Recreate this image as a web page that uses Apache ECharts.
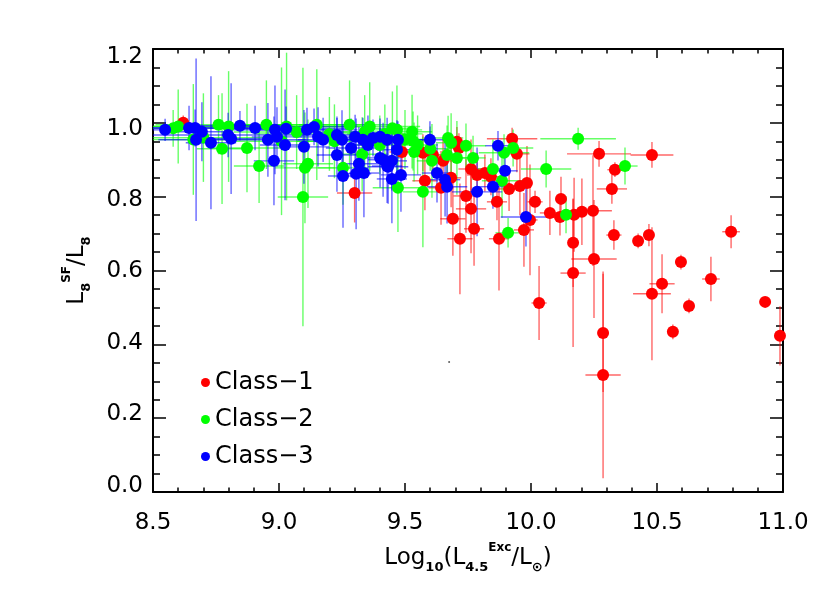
<!DOCTYPE html>
<html>
<head>
<meta charset="utf-8">
<script src="https://cdn.jsdelivr.net/npm/echarts/dist/echarts.min.js"></script>
<style>
html,body{margin:0;padding:0;background:#fff;}
#chart{width:830px;height:593px;}
</style>
</head>
<body>
<div id="chart"></div>
<script>
// ---------- data ----------
const seriesNames = ['Class\u22121', 'Class\u22122', 'Class\u22123'];
const xTickValues = [8.5, 9.0, 9.5, 10.0, 10.5, 11.0];
const yTickValues = [0.0, 0.2, 0.4, 0.6, 0.8, 1.0, 1.2];

const class1X = [8.62, 9.30, 9.925, 9.944, 10.27, 10.333, 10.321, 10.119, 10.016, 10.075,
  10.115, 10.171, 10.202, 10.246, 9.996, 9.972, 10.167, 10.25, 10.167, 10.329,
  9.865, 9.913, 9.956, 9.984, 9.873, 9.774, 9.718, 9.69, 9.762, 9.742,
  9.762, 9.786, 9.817, 9.841, 9.579, 9.643, 9.683, 9.651, 9.611, 9.571,
  9.706, 9.714, 9.488, 10.48, 10.425, 10.468, 10.032, 10.286, 10.286, 10.48,
  10.52, 10.595, 10.714, 10.627, 10.563, 10.794, 10.929, 10.988];
const class1Y = [1.00, 0.81, 0.957, 0.916, 0.916, 0.873, 0.821, 0.794, 0.786, 0.756,
  0.745, 0.751, 0.759, 0.762, 0.737, 0.71, 0.675, 0.631, 0.593, 0.696,
  0.786, 0.821, 0.829, 0.837, 0.686, 0.713, 0.686, 0.74, 0.767, 0.802,
  0.875, 0.859, 0.864, 0.854, 0.843, 0.824, 0.851, 0.897, 0.913, 0.919,
  0.949, 0.932, 0.921, 0.913, 0.68, 0.696, 0.512, 0.431, 0.317, 0.537,
  0.564, 0.623, 0.577, 0.504, 0.434, 0.705, 0.515, 0.423];
const class1XErr = [0.03, 0.07, 0.10, 0.05, 0.127, 0.03, 0.06, 0.02, 0.03, 0.04,
  0.03, 0.02, 0.02, 0.075, 0.03, 0.04, 0.02, 0.09, 0.05, 0.03,
  0.04, 0.05, 0.03, 0.02, 0.04, 0.04, 0.05, 0.05, 0.06, 0.05,
  0.05, 0.04, 0.04, 0.04, 0.05, 0.05, 0.04, 0.05, 0.05, 0.05,
  0.04, 0.04, 0.05, 0.085, 0.02, 0.02, 0.03, 0.02, 0.07, 0.075,
  0.05, 0.02, 0.035, 0.01, 0.02, 0.035, 0.01, 0.01];
const class1YErr = [0.02, 0.08, 0.03, 0.05, 0.035, 0.02, 0.04, 0.06, 0.03, 0.06,
  0.05, 0.10, 0.09, 0.15, 0.15, 0.10, 0.12, 0.16, 0.20, 0.04,
  0.05, 0.06, 0.08, 0.10, 0.14, 0.10, 0.15, 0.10, 0.12, 0.10,
  0.08, 0.06, 0.05, 0.05, 0.08, 0.10, 0.08, 0.06, 0.05, 0.05,
  0.04, 0.04, 0.05, 0.035, 0.02, 0.03, 0.10, 0.16, 0.28, 0.18,
  0.08, 0.02, 0.06, 0.02, 0.02, 0.045, 0.01, 0.08];

const class2X = [8.774, 8.873, 8.921, 9.095, 9.103, 9.115, 9.254, 9.528, 9.468, 9.532,
  9.536, 9.607, 9.571, 9.472, 9.671, 9.683, 9.706, 9.667, 9.742, 9.77,
  9.849, 9.885, 9.893, 9.929, 9.909, 10.06, 10.187, 10.139, 10.373,
  8.58, 8.60, 8.76, 8.80, 8.95, 9.03, 9.07, 9.15, 9.20, 9.28,
  9.34, 9.36, 9.42, 9.45, 9.50, 8.70, 8.66, 9.01, 9.22, 9.40,
  9.33, 9.55, 9.60];
const class2Y = [0.93, 0.932, 0.883, 0.799, 0.878, 0.889, 0.878, 0.976, 0.981, 0.951,
  0.921, 0.897, 0.813, 0.824, 0.959, 0.946, 0.905, 0.913, 0.938, 0.905,
  0.875, 0.843, 0.919, 0.932, 0.702, 0.875, 0.957, 0.751, 0.883,
  0.985, 0.99, 0.995, 0.99, 0.995, 0.99, 0.975, 0.995, 0.97, 0.995,
  0.975, 0.99, 0.97, 0.985, 0.955, 0.96, 0.955, 0.95, 0.95, 0.94,
  0.915, 0.94, 0.93];
const class2XErr = [0.10, 0.15, 0.10, 0.10, 0.12, 0.10, 0.10, 0.08, 0.10, 0.08,
  0.08, 0.06, 0.08, 0.10, 0.06, 0.06, 0.05, 0.06, 0.08, 0.05,
  0.06, 0.08, 0.10, 0.08, 0.05, 0.10, 0.15, 0.02, 0.05,
  0.20, 0.30, 0.25, 0.35, 0.20, 0.30, 0.25, 0.20, 0.30, 0.20,
  0.15, 0.20, 0.15, 0.10, 0.10, 0.30, 0.25, 0.20, 0.15, 0.10,
  0.10, 0.08, 0.08];
const class2YErr = [0.15, 0.12, 0.10, 0.35, 0.15, 0.12, 0.10, 0.10, 0.12, 0.08,
  0.08, 0.10, 0.15, 0.12, 0.06, 0.08, 0.10, 0.08, 0.06, 0.06,
  0.08, 0.10, 0.05, 0.05, 0.04, 0.05, 0.03, 0.05, 0.05,
  0.05, 0.10, 0.08, 0.15, 0.12, 0.20, 0.10, 0.15, 0.10, 0.12,
  0.10, 0.12, 0.08, 0.10, 0.08, 0.12, 0.15, 0.20, 0.10, 0.08,
  0.10, 0.08, 0.06];

const class3X = [8.548, 8.643, 8.667, 8.694, 8.671, 8.73, 8.798, 8.81, 8.845, 8.905,
  8.956, 8.984, 8.992, 9.028, 9.024, 8.98, 9.099, 9.111, 9.139, 9.155,
  9.175, 9.23, 9.23, 9.25, 9.254, 9.286, 9.302, 9.306, 9.317, 9.337,
  9.333, 9.353, 9.373, 9.401, 9.429, 9.401, 9.429, 9.472, 9.468, 9.413,
  9.448, 9.433, 9.448, 9.484, 9.599, 9.627, 9.659, 9.667, 9.786, 9.849,
  9.869, 9.897, 9.98];
const class3Y = [0.981, 0.986, 0.986, 0.976, 0.954, 0.946, 0.967, 0.957, 0.992, 0.986,
  0.954, 0.981, 0.962, 0.984, 0.94, 0.897, 0.935, 0.981, 0.989, 0.962,
  0.954, 0.913, 0.967, 0.954, 0.856, 0.932, 0.962, 0.862, 0.889, 0.864,
  0.954, 0.94, 0.959, 0.905, 0.883, 0.962, 0.954, 0.954, 0.927, 0.90,
  0.897, 0.881, 0.848, 0.859, 0.954, 0.864, 0.846, 0.827, 0.813, 0.827,
  0.938, 0.87, 0.745];
const class3XErr = [0.05, 0.30, 0.20, 0.10, 0.15, 0.10, 0.30, 0.15, 0.20, 0.15,
  0.15, 0.20, 0.10, 0.25, 0.10, 0.08, 0.10, 0.20, 0.15, 0.10,
  0.10, 0.08, 0.15, 0.10, 0.06, 0.10, 0.15, 0.06, 0.08, 0.06,
  0.10, 0.08, 0.12, 0.08, 0.06, 0.10, 0.08, 0.10, 0.08, 0.06,
  0.06, 0.08, 0.06, 0.08, 0.10, 0.06, 0.06, 0.08, 0.10, 0.06,
  0.05, 0.05, 0.10];
const class3YErr = [0.03, 0.06, 0.05, 0.08, 0.22, 0.18, 0.06, 0.15, 0.04, 0.06,
  0.10, 0.12, 0.08, 0.06, 0.15, 0.12, 0.10, 0.06, 0.05, 0.08,
  0.06, 0.10, 0.05, 0.08, 0.14, 0.08, 0.06, 0.15, 0.10, 0.12,
  0.06, 0.08, 0.05, 0.08, 0.10, 0.05, 0.06, 0.05, 0.08, 0.10,
  0.08, 0.10, 0.12, 0.10, 0.05, 0.08, 0.10, 0.10, 0.12, 0.06,
  0.04, 0.05, 0.08];

const strayX = [9.675];
const strayY = [0.352];

// ---------- build ----------
const FONT = 'DejaVu Sans';
const colors = ['#ff0000', '#00ff00', '#0000ff'];

function pts(xs, ys) { return xs.map((x, i) => [x, ys[i]]); }
function errRows(xs, ys, ex, ey) { return xs.map((x, i) => [x, ys[i], ex[i], ey[i]]); }

function errRender(color) {
  return function (params, api) {
    const x = api.value(0), y = api.value(1), ex = api.value(2), ey = api.value(3);
    const a = api.coord([x - ex, y]), b = api.coord([x + ex, y]);
    const c = api.coord([x, y - ey]), d = api.coord([x, y + ey]);
    const style = { stroke: color, lineWidth: 1.4, opacity: 0.6 };
    return {
      type: 'group',
      children: [
        { type: 'line', shape: { x1: a[0], y1: a[1], x2: b[0], y2: b[1] }, style: style },
        { type: 'line', shape: { x1: c[0], y1: c[1], x2: d[0], y2: d[1] }, style: style }
      ]
    };
  };
}

const allX = [class1X, class2X, class3X];
const allY = [class1Y, class2Y, class3Y];
const allEX = [class1XErr, class2XErr, class3XErr];
const allEY = [class1YErr, class2YErr, class3YErr];

const series = [];
for (let k = 0; k < 3; k++) {
  series.push({
    type: 'custom', name: seriesNames[k] + ' err', renderItem: errRender(colors[k]),
    data: errRows(allX[k], allY[k], allEX[k], allEY[k]), encode: { x: 0, y: 1 },
    clip: true, z: 2, silent: true
  });
}
for (let k = 0; k < 3; k++) {
  series.push({
    type: 'scatter', name: seriesNames[k], data: pts(allX[k], allY[k]),
    symbol: 'circle', symbolSize: 12, itemStyle: { color: colors[k], opacity: 1 },
    z: 3 + k, clip: true
  });
}
series.push({
  type: 'scatter', name: 'stray', data: pts(strayX, strayY), symbolSize: 2,
  itemStyle: { color: '#333' }, z: 3
});

// IDL-like vertical offsets of y tick labels (label drifts away from the axis ends)
const yLabelRich = {};
yTickValues.forEach((v, i) => {
  const off = Math.round(-6 + 11.67 * v); // px, positive = down
  yLabelRich['r' + i] = {
    fontSize: 23, fontFamily: FONT, color: '#000',
    padding: off >= 0 ? [2 * off, 0, 0, 0] : [0, 0, -2 * off, 0]
  };
});

const axisLineStyle = { color: '#000', width: 2 };
function xAx(pos, showLabel) {
  return {
    type: 'value', position: pos, min: xTickValues[0], max: xTickValues[xTickValues.length - 1], interval: 0.5,
    axisLine: { show: true, onZero: false, lineStyle: axisLineStyle },
    axisTick: { show: true, inside: true, length: 9, lineStyle: { color: '#000', width: 1.5 } },
    minorTick: { show: true, splitNumber: 5, length: 4.5, lineStyle: { color: '#000', width: 1.5 } },
    splitLine: { show: false }, minorSplitLine: { show: false },
    axisLabel: { show: showLabel, fontSize: 23, fontFamily: FONT, color: '#000', margin: 20,
      formatter: v => v.toFixed(1) }
  };
}
function yAx(pos, showLabel) {
  return {
    type: 'value', position: pos, min: yTickValues[0], max: yTickValues[yTickValues.length - 1], interval: 0.2,
    axisLine: { show: true, onZero: false, lineStyle: axisLineStyle },
    axisTick: { show: true, inside: true, length: 13, lineStyle: { color: '#000', width: 1.5 } },
    minorTick: { show: true, splitNumber: 4, length: 7, lineStyle: { color: '#000', width: 1.5 } },
    splitLine: { show: false }, minorSplitLine: { show: false },
    axisLabel: { show: showLabel, fontSize: 23, fontFamily: FONT, color: '#000', margin: 10,
      formatter: v => {
        const i = yTickValues.findIndex(t => Math.abs(t - v) < 1e-6);
        return '{r' + (i < 0 ? 0 : i) + '|' + v.toFixed(1) + '}';
      },
      rich: yLabelRich }
  };
}

const xMain = xAx('bottom', true);
xMain.name = '{a|Log}{s|10}{a|(L}{s|4.5}{p|Exc}{a|/L}{s|\u2299}{a|)}';
xMain.nameLocation = 'middle';
xMain.nameGap = 50;
xMain.nameTextStyle = {
  color: '#000', fontFamily: FONT,
  rich: {
    a: { fontSize: 23, fontFamily: FONT, color: '#000', lineHeight: 32 },
    s: { fontSize: 13, fontFamily: FONT, color: '#000', fontWeight: 'bold', lineHeight: 16, verticalAlign: 'bottom' },
    p: { fontSize: 12, fontFamily: FONT, color: '#000', fontWeight: 'bold', lineHeight: 16, verticalAlign: 'top' }
  }
};
const yMain = yAx('left', true);
yMain.name = '{a|L}{s|8}{p|SF}{a|/L}{s|8}';
yMain.nameLocation = 'middle';
yMain.nameGap = 60;
yMain.nameRotate = 90;
yMain.nameTextStyle = {
  color: '#000', fontFamily: FONT,
  rich: {
    a: { fontSize: 23, fontFamily: FONT, color: '#000', lineHeight: 32 },
    s: { fontSize: 13, fontFamily: FONT, color: '#000', fontWeight: 'bold', lineHeight: 16, verticalAlign: 'bottom' },
    p: { fontSize: 12, fontFamily: FONT, color: '#000', fontWeight: 'bold', lineHeight: 16, verticalAlign: 'top' }
  }
};

const option = {
  animation: false,
  backgroundColor: '#fff',
  grid: { left: 153, right: 47, top: 49, bottom: 101, containLabel: false },
  xAxis: [xMain, xAx('top', false)],
  yAxis: [yMain, yAx('right', false)],
  legend: {
    data: seriesNames, orient: 'vertical', left: 201, top: 370, padding: 0,
    itemWidth: 9, itemHeight: 9, itemGap: 12, icon: 'circle',
    textStyle: { fontSize: 24, fontFamily: FONT, color: '#000', lineHeight: 25 },
    selectedMode: false
  },
  series: series
};

const chart = echarts.init(document.getElementById('chart'), null, { renderer: 'canvas' });
chart.setOption(option);
</script>
</body>
</html>
